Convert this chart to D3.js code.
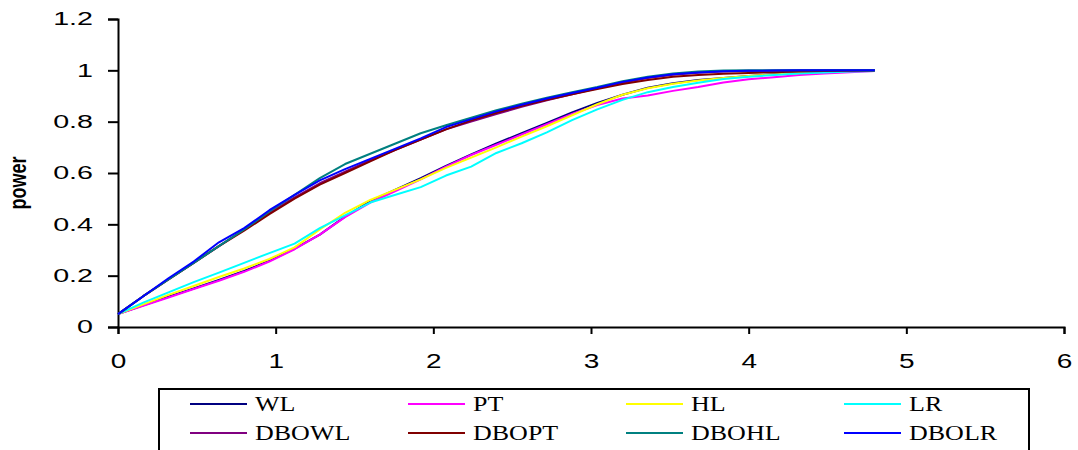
<!DOCTYPE html>
<html>
<head>
<meta charset="utf-8">
<script src="https://cdn.jsdelivr.net/npm/d3@7"></script>
<style>
  body { margin: 0; background: #fff; }
  svg { display: block; }
  .tick text { font-family: "Liberation Sans", Arial, sans-serif; fill: #000; }
  .legend text { font-family: "Liberation Serif", "Times New Roman", serif; font-size: 20px; fill: #000; }
</style>
</head>
<body>
<div id="chart"></div>
<script>
// shift values (x) and power estimates for each test
const shifts = [0, 0.16, 0.32, 0.48, 0.64, 0.8, 0.96, 1.12, 1.28, 1.44, 1.6, 1.76, 1.92, 2.08, 2.24, 2.4,
  2.56, 2.72, 2.88, 3.04, 3.2, 3.36, 3.52, 3.68, 3.84, 4.0, 4.16, 4.32, 4.48, 4.64, 4.8]

const WL = [0.05, 0.085, 0.118, 0.15, 0.183, 0.218, 0.258, 0.305, 0.36, 0.43, 0.49, 0.535, 0.58, 0.628, 0.672, 0.715,
  0.755, 0.795, 0.836, 0.873, 0.905, 0.932, 0.95, 0.962, 0.97, 0.978, 0.985, 0.99, 0.994, 0.997, 0.999]
const PT = [0.05, 0.083, 0.115, 0.148, 0.18, 0.215, 0.255, 0.303, 0.36, 0.428, 0.485, 0.53, 0.575, 0.625, 0.67, 0.71,
  0.75, 0.79, 0.83, 0.865, 0.89, 0.902, 0.92, 0.935, 0.953, 0.965, 0.973, 0.982, 0.988, 0.993, 0.997]
const HL = [0.05, 0.088, 0.125, 0.16, 0.195, 0.228, 0.265, 0.31, 0.38, 0.445, 0.495, 0.535, 0.575, 0.62, 0.66, 0.7,
  0.742, 0.782, 0.825, 0.868, 0.905, 0.93, 0.948, 0.96, 0.97, 0.978, 0.984, 0.99, 0.994, 0.997, 0.999]
const LR = [0.05, 0.095, 0.135, 0.175, 0.212, 0.25, 0.288, 0.325, 0.385, 0.435, 0.485, 0.515, 0.545, 0.59, 0.625, 0.678,
  0.716, 0.758, 0.806, 0.848, 0.885, 0.915, 0.935, 0.952, 0.966, 0.975, 0.982, 0.988, 0.992, 0.995, 0.997]
const DBOWL = [0.05, 0.12, 0.185, 0.25, 0.315, 0.38, 0.445, 0.505, 0.56, 0.605, 0.65, 0.69, 0.73, 0.77, 0.8, 0.83,
  0.858, 0.883, 0.907, 0.93, 0.952, 0.97, 0.983, 0.991, 0.995, 0.997, 0.998, 0.999, 1.0, 1.0, 1.0]
const DBOPT = [0.05, 0.12, 0.185, 0.25, 0.315, 0.375, 0.44, 0.5, 0.555, 0.6, 0.645, 0.69, 0.73, 0.77, 0.805, 0.835,
  0.862, 0.885, 0.907, 0.927, 0.947, 0.962, 0.975, 0.982, 0.987, 0.99, 0.993, 0.995, 0.997, 0.998, 0.999]
const DBOHL = [0.05, 0.12, 0.185, 0.25, 0.315, 0.38, 0.45, 0.515, 0.58, 0.635, 0.675, 0.715, 0.755, 0.786, 0.815, 0.845,
  0.87, 0.893, 0.915, 0.935, 0.958, 0.975, 0.988, 0.995, 0.999, 1.0, 1.0, 1.0, 1.0, 1.0, 1.0]
const DBOLR = [0.05, 0.12, 0.19, 0.255, 0.33, 0.385, 0.455, 0.515, 0.571, 0.615, 0.655, 0.695, 0.735, 0.779, 0.81, 0.84,
  0.866, 0.89, 0.912, 0.932, 0.955, 0.972, 0.985, 0.992, 0.996, 0.998, 0.999, 1.0, 1.0, 1.0, 1.0]

const seriesNames = ['WL', 'PT', 'HL', 'LR', 'DBOWL', 'DBOPT', 'DBOHL', 'DBOLR']
const seriesValues = [WL, PT, HL, LR, DBOWL, DBOPT, DBOHL, DBOLR]
const seriesColors = ['#000080', '#ff00ff', '#ffff00', '#00ffff', '#800080', '#800000', '#008080', '#0000ff']

const xTicks = [0, 1, 2, 3, 4, 5, 6]
const yTicks = [0, 0.2, 0.4, 0.6, 0.8, 1, 1.2]

const width = 1078, height = 450
const margin = {left: 118, right: 14, top: 19, bottom: 123}

const svg = d3.select('#chart').append('svg')
  .attr('width', width)
  .attr('height', height)

const x = d3.scaleLinear().domain([0, 6]).range([margin.left, width - margin.right])
const y = d3.scaleLinear().domain([0, 1.2]).range([height - margin.bottom, margin.top])

// axes
const xAxis = svg.append('g')
  .attr('transform', `translate(0,${y(0)})`)
  .call(d3.axisBottom(x).tickValues(xTicks).tickFormat(d3.format('d')).tickSize(7))
const yAxis = svg.append('g')
  .attr('transform', `translate(${x(0)},0)`)
  .call(d3.axisLeft(y).tickValues(yTicks).tickFormat(d => d === 0 || d === 1 ? String(d) : d.toFixed(1)).tickSize(10))

for (let ax of [xAxis, yAxis]) {
  ax.select('.domain').attr('stroke', '#000').attr('stroke-width', 2)
  ax.selectAll('.tick line').attr('stroke', '#000').attr('stroke-width', 2)
}
// the source picture has wide, stretched tick glyphs
xAxis.selectAll('.tick text')
  .attr('x', 0).attr('y', 0).attr('dy', 0)
  .style('font-size', '20px')
  .attr('transform', 'translate(0,41) scale(1.4,1)')
yAxis.selectAll('.tick text')
  .attr('x', 0)
  .style('font-size', '18.5px')
  .attr('transform', 'translate(-25,0) scale(1.55,1)')

svg.append('text')
  .attr('transform', `translate(26,${(y(0) + y(1.2)) / 2 + 10}) rotate(-90) scale(1,1.3)`)
  .attr('text-anchor', 'middle')
  .style('font-family', '"Liberation Sans", Arial, sans-serif')
  .style('font-size', '18px')
  .style('font-weight', 'bold')
  .text('power')

// lines
const line = d3.line()
  .x((d, i) => x(shifts[i]))
  .y(d => y(d))

svg.append('g').selectAll('path')
  .data(seriesValues)
  .join('path')
  .attr('d', line)
  .attr('fill', 'none')
  .attr('stroke', (d, i) => seriesColors[i])
  .attr('stroke-width', 2)
  .attr('stroke-linejoin', 'round')

// legend
const legend = svg.append('g').attr('class', 'legend')
legend.append('rect')
  .attr('x', 159).attr('y', 389)
  .attr('width', 870).attr('height', 70)
  .attr('fill', 'none')
  .attr('stroke', '#000')
  .attr('stroke-width', 2)

const items = legend.selectAll('g.item')
  .data(seriesNames)
  .join('g')
  .attr('class', 'item')
  .attr('transform', (d, i) => `translate(${190 + (i % 4) * 218},${i < 4 ? 404 : 433})`)

items.append('line')
  .attr('x1', 0).attr('x2', 57)
  .attr('stroke', (d, i) => seriesColors[i])
  .attr('stroke-width', 2)

items.append('text')
  .attr('dy', '0.35em')
  .attr('transform', 'translate(65,0) scale(1.3,1)')
  .text(d => d)
</script>
</body>
</html>
